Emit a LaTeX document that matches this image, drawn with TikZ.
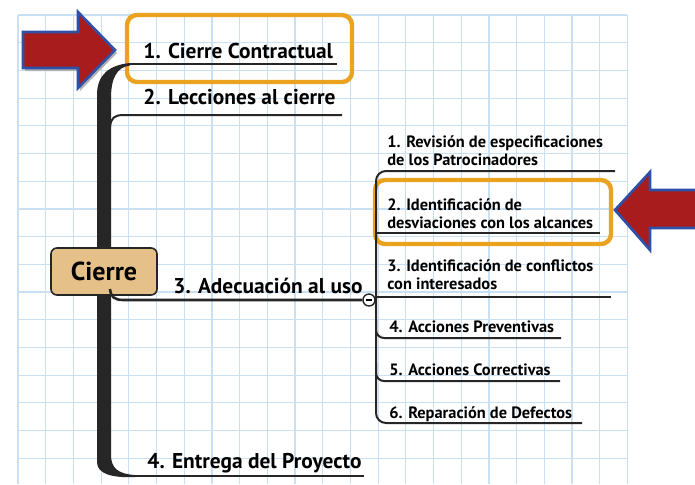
\documentclass[tikz,border=0pt]{standalone}
\usepackage{fontspec}
\setmainfont{PT Sans}
\definecolor{gridblue}{HTML}{C9E0F2}
\definecolor{boxorange}{HTML}{EBA21E}
\definecolor{arrowred}{HTML}{A81C1E}
\definecolor{arrowblue}{HTML}{2E50A8}
\definecolor{roottan}{HTML}{E6C089}
\definecolor{linegray}{HTML}{262626}

\begin{document}
\begin{tikzpicture}[x=0.5pt,y=-0.5pt,
    gridline/.style={draw=gridblue, line width=0.6pt},
    itemnode/.style={anchor=base west, inner sep=0pt, font=\bfseries\fontsize{10.7}{12}\selectfont},
    subnode/.style={anchor=base west, inner sep=0pt, align=left, font=\bfseries\fontsize{8.2}{8.9}\selectfont},
    rootnode/.style={draw=black!85, fill=roottan, rounded corners=3pt, line width=0.8pt, minimum width=53pt, minimum height=23.5pt, inner sep=0pt, font=\bfseries\fontsize{13}{14}\selectfont},
    togglenode/.style={circle, draw=linegray, fill=white, line width=0.7pt, minimum size=6pt, inner sep=0pt},
    branch/.style={draw=linegray, line width=1pt},
    markbox/.style={draw=boxorange, line width=2.2pt, rounded corners=5pt},
    bigarrow/.style={fill=arrowred, draw=arrowblue, line width=1.3pt, line join=miter}
    ]
    \useasboundingbox (0,0) rectangle (695,484);
    \fill[white] (0,0) rectangle (695,484);

    \foreach \i in {0,...,22}
        \draw[gridline] ({18+27.7*\i},15) -- ({18+27.7*\i},484);
    \foreach \j in {0,...,16}
        \draw[gridline] (18,{15+27.7*\j}) -- (627,{15+27.7*\j});

    \fill[black!30] (25,35) -- (80,35) -- (80,15) -- (117,53) -- (80,91) -- (80,71) -- (25,71) -- cycle;
    \draw[bigarrow] (23,32) -- (78,32) -- (78,12) -- (115,50) -- (78,88) -- (78,68) -- (23,68) -- cycle;
    \path[bigarrow] (695,190) -- (650,190) -- (650,172) -- (615,210) -- (650,250) -- (650,228) -- (695,228);

    \draw[markbox] (127,15) rectangle (352,82);
    \draw[markbox] (375,180) rectangle (611,244);

    \fill[linegray] (97,462) -- (97,95) .. controls (97,74) and (110,65) .. (130,63) -- (130,65.5) .. controls (117,67) and (111,78) .. (111,98)
        -- (111,455) .. controls (111,468) and (118,474) .. (135,475) -- (135,477) .. controls (112,478) and (97,474) .. (97,462) -- cycle;

    \node [rootnode] (root) at (104,271.5) {Cierre};

    \node [itemnode] (m1) at (143,58) {1. Cierre Contractual};
    \node [itemnode] (m2) at (143,104) {2. Lecciones al cierre};
    \node [itemnode] (m3) at (173,293) {3. Adecuación al uso};
    \node [itemnode] (m4) at (147,468) {4. Entrega del Proyecto};
    \node [togglenode] (tg) at (369,300) {};

    \node [subnode] (s1) at (387,165) {1. Revisión de especificaciones\\de los Patrocinadores};
    \node [subnode] (s2) at (387,228) {2. Identificación de\\desviaciones con los alcances};
    \node [subnode] (s3) at (387,289) {3. Identificación de conflictos\\con interesados};
    \node [subnode] (s4) at (389,332) {4. Acciones Preventivas};
    \node [subnode] (s5) at (389,375) {5. Acciones Correctivas};
    \node [subnode] (s6) at (389,418) {6. Reparación de Defectos};

    \coordinate (m1a) at (129,64);   \coordinate (m1b) at (337,64);
    \coordinate (m2a) at (110,127);  \coordinate (m2b) at (342,115);
    \coordinate (m3a) at (110,289);
    \coordinate (m4a) at (134,476);  \coordinate (m4b) at (364,476);
    \coordinate (k1) at (615,171);   \coordinate (k6) at (582,423);
    \coordinate (k2) at (600,233);   \coordinate (k3) at (611,297);
    \coordinate (k4) at (561,338);   \coordinate (k5) at (560,381);

    \draw[branch] (m1a) -- (m1b);
    \draw[branch] (m2a) .. controls (111,118) and (114,115) .. (124,115) -- (m2b);
    \draw[branch, line width=1.3pt] (m3a) .. controls (111,297) and (114,300) .. (124,300) -- (tg);
    \draw[branch] (m4a) -- (m4b);

    \draw[branch, rounded corners=5pt] (k1) -- (376,171) -- (376,423) -- (k6);
    \draw[branch] (376,233) -- (k2);
    \draw[branch] (tg) -- (376,300);
    \draw[branch] (376,297) -- (k3);
    \draw[branch, rounded corners=4pt] (376,320) -- (376,338) -- (k4);
    \draw[branch, rounded corners=4pt] (376,363) -- (376,381) -- (k5);
    \draw[line width=0.6pt] ([xshift=-1.6pt]tg.center) -- ([xshift=1.6pt]tg.center);
\end{tikzpicture}
\end{document}
